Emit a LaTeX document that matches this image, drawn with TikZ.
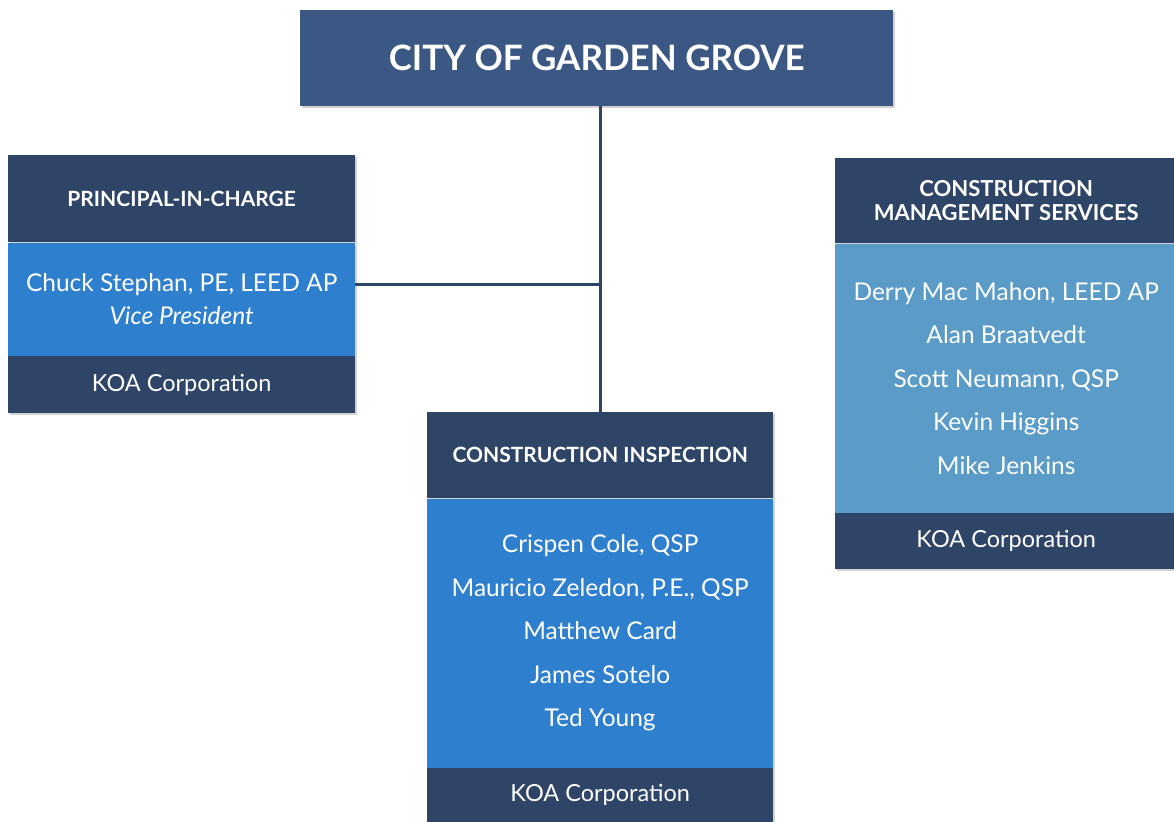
\documentclass[tikz,border=0pt]{standalone}
\usepackage{fontspec}
\setmainfont{Lato}
\usetikzlibrary{positioning,shadows}
\definecolor{navy}{HTML}{2E4568}
\definecolor{topnavy}{HTML}{3A5883}
\definecolor{midblue}{HTML}{2F7FCF}
\definecolor{paleblue}{HTML}{5A9BC8}
\tikzset{
    part/.style={
           rectangle,
           draw=none,
           text=white,
           align=center,
           inner sep=0pt,
           drop shadow={shadow xshift=2pt,shadow yshift=-2pt,opacity=0.35},
           },
    hdr/.style={part,fill=navy,font=\fontsize{21}{24}\selectfont\bfseries},
    foot/.style={part,fill=navy,font=\fontsize{23.5}{26}\selectfont},
    link/.style={draw=navy,line width=3pt},
}

\begin{document}
\begin{tikzpicture}[
  x=1pt,y=-1pt,
  node distance=0pt,
  names/.style={part,font=\fontsize{24.5}{43.5}\selectfont}]
\useasboundingbox (0,0) rectangle (1174,821);
\fill[white] (0,0) rectangle (1174,821);

% top box
\node[part,fill=topnavy,minimum width=593pt,minimum height=96pt,anchor=north west,
      font=\fontsize{35}{40}\selectfont\bfseries] (city) at (300,10) {CITY OF GARDEN GROVE};

% principal in charge
\node[hdr,minimum width=347pt,minimum height=87pt,anchor=north west] (principalHdr) at (8,155) {PRINCIPAL-IN-CHARGE};
\node[names,fill=midblue,minimum width=347pt,minimum height=113pt,below=of principalHdr,
      font=\fontsize{24.5}{33}\selectfont] (principalBody) {Chuck Stephan, PE, LEED AP\\ \textit{Vice President}};
\node[foot,minimum width=347pt,minimum height=57pt,below=of principalBody] (principalFoot) {KOA Corporation};

% construction inspection
\node[hdr,minimum width=346pt,minimum height=86pt,anchor=north west] (inspHdr) at (427,412) {CONSTRUCTION INSPECTION};
\node[names,fill=midblue,minimum width=346pt,minimum height=269pt,below=of inspHdr] (inspBody)
  {Crispen Cole, QSP\\ Mauricio Zeledon, P.E., QSP\\ Matthew Card\\ James Sotelo\\ Ted Young};
\node[foot,minimum width=346pt,minimum height=58pt,below=of inspBody,text depth=8pt] (inspFoot) {KOA Corporation};

% construction management
\node[hdr,minimum width=342pt,minimum height=85pt,anchor=north west,
      font=\fontsize{22}{24}\selectfont\bfseries] (cmsHdr) at (835,158) {CONSTRUCTION\\ MANAGEMENT SERVICES};
\node[names,fill=paleblue,minimum width=342pt,minimum height=269pt,below=of cmsHdr] (cmsBody)
  {Derry Mac Mahon, LEED AP\\ Alan Braatvedt\\ Scott Neumann, QSP\\ Kevin Higgins\\ Mike Jenkins};
\node[foot,minimum width=342pt,minimum height=56pt,below=of cmsBody] (cmsFoot) {KOA Corporation};

% connectors
\draw[link] (inspHdr.north |- city.south) -- (inspHdr.north);
\draw[link] ([yshift=15pt]principalBody.east) -- ([yshift=15pt]principalBody.east -| inspHdr.north);
\end{tikzpicture}
\end{document}
